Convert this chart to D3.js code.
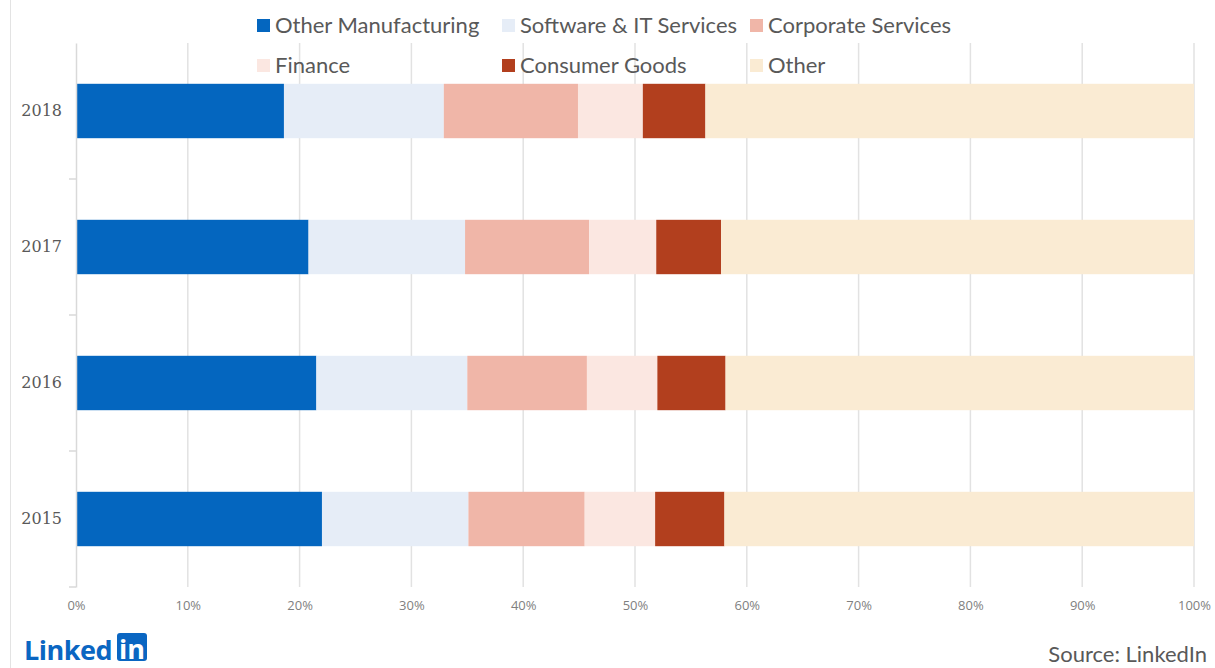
<!DOCTYPE html>
<html>
<head>
<meta charset="utf-8">
<script src="https://cdn.jsdelivr.net/npm/d3@7"></script>
<style>
  body { margin: 0; background: #fff; }
  svg { display: block; font-family: Lato, "Open Sans", sans-serif; }
</style>
</head>
<body>
<div id="chart"></div>
<script>
// values, share of each year (%)
const years = ["2018", "2017", "2016", "2015"];
const seriesNames = ["Other Manufacturing", "Software & IT Services", "Corporate Services", "Finance", "Consumer Goods", "Other"];
const otherManufacturing = [18.6, 20.8, 21.5, 22.0];
const softwareIT = [14.3, 14.0, 13.5, 13.1];
const corporateServices = [12.0, 11.1, 10.7, 10.4];
const finance = [5.8, 6.0, 6.3, 6.3];
const consumerGoods = [5.6, 5.8, 6.1, 6.2];
const other = [43.7, 42.3, 41.9, 42.0];
const xTicks = [0, 10, 20, 30, 40, 50, 60, 70, 80, 90, 100];

const colors = ["#0466bf", "#e6edf7", "#f0b6a8", "#fbe7e1", "#b23f1e", "#faebd3"];

const width = 1215;
const height = 668;
const margin = { top: 43, right: 21, bottom: 81, left: 76 };

const seriesValues = [otherManufacturing, softwareIT, corporateServices, finance, consumerGoods, other];
const rows = years.map((y, i) => {
  const r = { year: y };
  seriesNames.forEach((s, j) => { r[s] = seriesValues[j][i]; });
  return r;
});

const stacked = d3.stack().keys(seriesNames)(rows);

const svg = d3.select("#chart")
  .append("svg")
  .attr("width", width)
  .attr("height", height);

const x = d3.scaleLinear()
  .domain([0, 100])
  .range([margin.left, width - margin.right]);

const y = d3.scaleBand()
  .domain(years)
  .range([margin.top, height - margin.bottom])
  .paddingInner(0.6)
  .paddingOuter(0.3);

// left frame line
svg.append("line")
  .attr("x1", 10.5).attr("x2", 10.5)
  .attr("y1", 0).attr("y2", height)
  .attr("stroke", "#e3e3e3")
  .attr("stroke-width", 1);

// gridlines
svg.append("g")
  .selectAll("line")
  .data(xTicks.slice(1))
  .join("line")
  .attr("x1", d => x(d)).attr("x2", d => x(d))
  .attr("y1", margin.top).attr("y2", height - margin.bottom)
  .attr("stroke", "#e2e2e2")
  .attr("stroke-width", 1.5);

// bars
svg.append("g")
  .selectAll("g")
  .data(stacked)
  .join("g")
  .attr("fill", (d, i) => colors[i])
  .selectAll("rect")
  .data(d => d)
  .join("rect")
  .attr("x", d => x(d[0]))
  .attr("y", d => y(d.data.year))
  .attr("width", d => x(d[1]) - x(d[0]))
  .attr("height", y.bandwidth());

// y axis line + labels
const yAxis = svg.append("g")
  .attr("transform", `translate(${margin.left},0)`)
  .call(d3.axisLeft(y).tickSize(0).tickPadding(14));
yAxis.select(".domain").attr("stroke", "#d9d9d9").attr("stroke-width", 1.5);
yAxis.selectAll("text")
  .attr("fill", "#595959")
  .style("font-size", "16px")
  .style("font-family", "'DejaVu Serif', serif")
  .style("font-weight", 300);

// small ticks between the categories
svg.append("g")
  .selectAll("line")
  .data(years.map((d, i) => margin.top + y.step() * (i + 1)))
  .join("line")
  .attr("x1", margin.left - 7).attr("x2", margin.left)
  .attr("y1", d => d).attr("y2", d => d)
  .attr("stroke", "#d9d9d9")
  .attr("stroke-width", 1.5);

// x axis labels
const xAxis = svg.append("g")
  .attr("transform", `translate(0,${height - margin.bottom})`)
  .call(d3.axisBottom(x).tickValues(xTicks).tickFormat(d => d + "%").tickSize(0).tickPadding(14));
xAxis.select(".domain").remove();
xAxis.selectAll("text")
  .attr("fill", "#7f7f7f")
  .style("font-size", "13px")
  .style("font-family", "'Open Sans', sans-serif");

// legend, 3 per row
const legendCols = [257, 502, 750];
const legendRows = [25, 65];
const legend = svg.append("g")
  .selectAll("g")
  .data(seriesNames)
  .join("g")
  .attr("transform", (d, i) => `translate(${legendCols[i % 3]},${legendRows[Math.floor(i / 3)]})`);
legend.append("rect")
  .attr("x", 0).attr("y", -6)
  .attr("width", 13).attr("height", 13)
  .attr("fill", (d, i) => colors[i]);
legend.append("text")
  .attr("x", 18).attr("y", 0)
  .attr("dy", "0.35em")
  .attr("fill", "#595959")
  .style("font-size", "22px")
  .text(d => d);

// LinkedIn logo
const logo = svg.append("g").attr("transform", "translate(24,660)");
logo.append("text")
  .attr("x", 0).attr("y", 0)
  .attr("fill", "#0a66c2")
  .style("font-family", "'Open Sans', sans-serif")
  .style("font-weight", 700)
  .style("font-size", "27px")
  .style("letter-spacing", "-0.5px")
  .text("Linked");
logo.append("rect")
  .attr("x", 93).attr("y", -27)
  .attr("width", 30).attr("height", 28)
  .attr("rx", 3)
  .attr("fill", "#0a66c2");
logo.append("text")
  .attr("x", 108).attr("y", -1)
  .attr("text-anchor", "middle")
  .attr("fill", "#fff")
  .style("font-family", "'Open Sans', sans-serif")
  .style("font-weight", 700)
  .style("font-size", "27px")
  .text("in");

// source
svg.append("text")
  .attr("x", 1207).attr("y", 662)
  .attr("text-anchor", "end")
  .attr("fill", "#595959")
  .style("font-size", "22px")
  .text("Source: LinkedIn");
</script>
</body>
</html>
